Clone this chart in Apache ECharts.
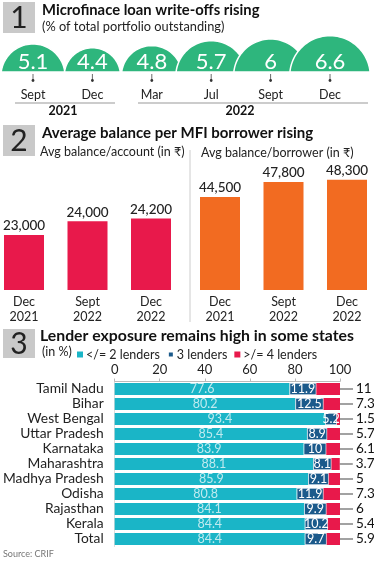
<!DOCTYPE html>
<html><head><meta charset="utf-8">
<script src="https://cdn.jsdelivr.net/npm/echarts@6/dist/echarts.min.js"></script>
<style>html,body{margin:0;padding:0;background:#fff}#c{width:374px;height:561px}</style>
</head><body><div id="c"></div>
<script>
// ---- data ----
const writeoffMonths = ['Sept', 'Dec', 'Mar', 'Jul', 'Sept', 'Dec'];
const writeoffValues = [5.1, 4.4, 4.8, 5.7, 6, 6.6];
const yearGroups = ['2021', '2022'];

const balanceCats = ['Dec\n2021', 'Sept\n2022', 'Dec\n2022'];
const balancePerAccount = [23000, 24000, 24200];
const balancePerBorrower = [44500, 47800, 48300];

const states = ['Tamil Nadu', 'Bihar', 'West Bengal', 'Uttar Pradesh', 'Karnataka', 'Maharashtra', 'Madhya Pradesh', 'Odisha', 'Rajasthan', 'Kerala', 'Total'];
const lenders2 = [77.6, 80.2, 93.4, 85.4, 83.9, 88.1, 85.9, 80.8, 84.1, 84.4, 84.4];
const lenders3 = [11.9, 12.5, 5.2, 8.9, 10, 8.1, 9.1, 11.9, 9.9, 10.2, 9.7];
const lenders4 = [11, 7.3, 1.5, 5.7, 6.1, 3.7, 5, 7.3, 6, 5.4, 5.9];

const FONT = 'Lato, "Noto Sans", sans-serif';
const GREEN = '#2eb67d', CRIMSON = '#e8194b', ORANGE = '#f26b21', CYAN = '#1ab5c7', NAVY = '#1b5a8b';

const chart = echarts.init(document.getElementById('c'), null, {renderer: 'canvas'});

function fmt(v) { return v.toLocaleString('en-US'); }

function arcPoints(cx, baseY, h, d) {
  // circular segment above baseY: circle centre d px below the base, reaching h px above it
  const R = h + d;
  const a0 = Math.asin(d / R);
  const pts = [];
  const n = 48;
  for (let k = 0; k <= n; k++) {
    const a = Math.PI + a0 + (Math.PI - 2 * a0) * k / n;
    pts.push([cx + R * Math.cos(a), baseY + d + R * Math.sin(a)]);
  }
  return pts;
}

const option = {
  animation: false,
  textStyle: {fontFamily: FONT},
  legend: {
    data: ['</= 2 lenders', '3 lenders', '>/= 4 lenders'],
    left: 72, top: 343, icon: 'rect', itemWidth: 6, itemHeight: 6, itemGap: 7,
    textStyle: {fontSize: 12.5, color: '#222', padding: [0, 0, 0, -2]}
  },
  grid: [
    {left: 33, width: 297, top: 17, height: 55},
    {left: 24, width: 127, top: 152.5, height: 137.5},
    {left: 220, width: 127, top: 126.7, height: 163.3},
    {left: 104, width: 236, top: 381.5, height: 165}
  ],
  xAxis: [
    {gridIndex: 0, type: 'category', data: writeoffMonths, boundaryGap: false,
     axisLine: {show: false}, axisTick: {show: false},
     axisLabel: {margin: 16, fontSize: 12.5, color: '#222'}},
    {gridIndex: 1, type: 'category', data: balanceCats, boundaryGap: false,
     axisLine: {show: false}, axisTick: {show: false},
     axisLabel: {margin: 4, fontSize: 12.5, color: '#222', lineHeight: 15}},
    {gridIndex: 2, type: 'category', data: balanceCats, boundaryGap: false,
     axisLine: {show: false}, axisTick: {show: false},
     axisLabel: {margin: 4, fontSize: 12.5, color: '#222', lineHeight: 15}},
    {gridIndex: 3, type: 'value', position: 'top', min: 0, max: 100, interval: 20,
     axisLine: {show: true, lineStyle: {color: '#bbb'}},
     axisTick: {show: true, length: 3, lineStyle: {color: '#bbb'}},
     splitLine: {show: false},
     axisLabel: {margin: 5, fontSize: 13, color: '#222'}}
  ],
  yAxis: [
    {gridIndex: 0, type: 'value', min: 0, max: 10, show: false},
    {gridIndex: 1, type: 'value', min: 19000, max: 29000, show: false},
    {gridIndex: 2, type: 'value', min: 24000, max: 60000, show: false},
    {gridIndex: 3, type: 'category', data: states, inverse: true,
     axisLine: {show: true, lineStyle: {color: '#ddd'}}, axisTick: {show: false},
     axisLabel: {interval: 0, margin: 11, fontSize: 13.8, color: '#222'}}
  ],
  series: [
    {
      name: 'writeoffs', type: 'custom', xAxisIndex: 0, yAxisIndex: 0,
      data: writeoffValues.map((v, i) => [i, v]),
      renderItem: function (params, api) {
        const p = api.coord([api.value(0), 0]);
        const h = api.size([0, api.value(1)])[1];
        return {
          type: 'group',
          children: [
            {type: 'polygon', shape: {points: arcPoints(p[0], p[1], h, 4)},
             style: {fill: GREEN, stroke: '#fff', lineWidth: 1.5}},
            {type: 'text', style: {text: String(api.value(1)), x: p[0], y: p[1] - 10, align: 'center', verticalAlign: 'middle',
             fill: '#fff', fontSize: 22, fontFamily: FONT}},
            {type: 'line', shape: {x1: p[0], y1: p[1] + 2, x2: p[0], y2: p[1] + 8}, style: {stroke: '#444', lineWidth: 0.8}},
            {type: 'circle', shape: {cx: p[0], cy: p[1] + 8.5, r: 1.4}, style: {fill: '#333'}}
          ]
        };
      }
    },
    {
      name: 'perAccount', type: 'bar', xAxisIndex: 1, yAxisIndex: 1, data: balancePerAccount, barWidth: 40,
      itemStyle: {color: CRIMSON},
      label: {show: true, position: 'top', distance: 2, fontSize: 13.5, color: '#222', fontWeight: 500, formatter: p => fmt(p.value)}
    },
    {
      name: 'perBorrower', type: 'bar', xAxisIndex: 2, yAxisIndex: 2, data: balancePerBorrower, barWidth: 40,
      itemStyle: {color: ORANGE},
      label: {show: true, position: 'top', distance: 2, fontSize: 13.5, color: '#222', fontWeight: 500, formatter: p => fmt(p.value)}
    },
    {
      name: '</= 2 lenders', type: 'bar', stack: 'l', xAxisIndex: 3, yAxisIndex: 3, data: lenders2, barWidth: 12,
      itemStyle: {color: CYAN},
      label: {show: true, position: 'inside', fontSize: 12.5, color: 'rgba(255,255,255,0.72)'}
    },
    {
      name: '3 lenders', type: 'bar', stack: 'l', xAxisIndex: 3, yAxisIndex: 3, data: lenders3, barWidth: 12,
      itemStyle: {color: NAVY, borderColor: '#fff', borderWidth: 0.6},
      label: {show: true, position: 'inside', fontSize: 12.5, color: '#fff'}
    },
    {
      name: '>/= 4 lenders', type: 'bar', stack: 'l', xAxisIndex: 3, yAxisIndex: 3, data: lenders4, barWidth: 12,
      itemStyle: {color: CRIMSON},
      label: {show: true, position: 'right', distance: 0,
        formatter: p => '{l|}{v|' + p.value + '}',
        rich: {l: {width: 13, height: 1, backgroundColor: '#444'}, v: {fontSize: 13.5, color: '#111', padding: [0, 0, 0, 3]}}}
    }
  ],
  graphic: [
    // section 1
    {type: 'rect', shape: {x: 3, y: 2, width: 32, height: 31}, style: {fill: '#c9c9c9'}},
    {type: 'text', style: {text: '1', x: 19, y: 18, align: 'center', verticalAlign: 'middle', fontSize: 30, fill: '#222', fontFamily: FONT}},
    {type: 'text', style: {text: 'Microfinace loan write-offs rising', x: 42, y: 10, verticalAlign: 'middle', fontSize: 14.8, fontWeight: 'bold', fill: '#111', fontFamily: FONT}},
    {type: 'text', style: {text: '(% of total portfolio outstanding)', x: 42, y: 27, verticalAlign: 'middle', fontSize: 12.8, fill: '#222', fontFamily: FONT}},
    {type: 'line', shape: {x1: 15, y1: 103, x2: 115, y2: 103}, style: {stroke: '#999', lineWidth: 1}},
    {type: 'line', shape: {x1: 138, y1: 103, x2: 368, y2: 103}, style: {stroke: '#999', lineWidth: 1}},
    {type: 'text', style: {text: yearGroups[0], x: 63, y: 111, align: 'center', verticalAlign: 'middle', fontSize: 12.5, fontWeight: 'bold', fill: '#111', fontFamily: FONT}},
    {type: 'text', style: {text: yearGroups[1], x: 240, y: 111, align: 'center', verticalAlign: 'middle', fontSize: 12.5, fontWeight: 'bold', fill: '#111', fontFamily: FONT}},
    // section 2
    {type: 'rect', shape: {x: 3, y: 125, width: 32, height: 31}, style: {fill: '#c9c9c9'}},
    {type: 'text', style: {text: '2', x: 19, y: 141, align: 'center', verticalAlign: 'middle', fontSize: 30, fill: '#222', fontFamily: FONT}},
    {type: 'text', style: {text: 'Average balance per MFI borrower rising', x: 42, y: 133, verticalAlign: 'middle', fontSize: 15, fontWeight: 'bold', fill: '#111', fontFamily: FONT}},
    {type: 'text', style: {text: 'Avg balance/account (in ₹)', x: 40, y: 152, verticalAlign: 'middle', fontSize: 12.5, fill: '#222', fontFamily: FONT}},
    {type: 'text', style: {text: 'Avg balance/borrower (in ₹)', x: 201, y: 153, verticalAlign: 'middle', fontSize: 12.5, fill: '#222', fontFamily: FONT}},
    {type: 'line', shape: {x1: 190, y1: 150, x2: 190, y2: 322}, style: {stroke: '#ccc', lineWidth: 1}},
    // section 3
    {type: 'rect', shape: {x: 3, y: 329, width: 32, height: 29}, style: {fill: '#c9c9c9'}},
    {type: 'text', style: {text: '3', x: 19, y: 344, align: 'center', verticalAlign: 'middle', fontSize: 30, fill: '#222', fontFamily: FONT}},
    {type: 'text', style: {text: 'Lender exposure remains high in some states', x: 40, y: 336, verticalAlign: 'middle', fontSize: 15.8, fontWeight: 'bold', fill: '#111', fontFamily: FONT}},
    {type: 'text', style: {text: '(in %)', x: 42, y: 352, verticalAlign: 'middle', fontSize: 12.5, fill: '#222', fontFamily: FONT}},
    {type: 'text', style: {text: 'Source: CRIF', x: 3, y: 554, verticalAlign: 'middle', fontSize: 9, fill: '#777', fontFamily: FONT}}
  ]
};
chart.setOption(option);
</script>
</body></html>
